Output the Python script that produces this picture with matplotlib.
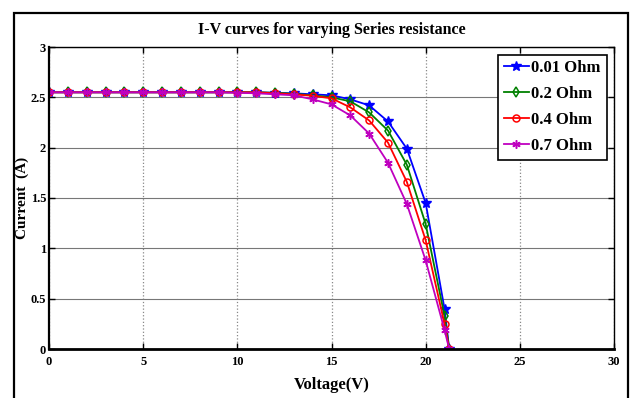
import matplotlib
matplotlib.use("Agg")
import matplotlib.pyplot as plt
from matplotlib.patches import Rectangle

# Terminal voltage (V) and module current (A) for each series resistance
voltage = [0, 1, 2, 3, 4, 5, 6, 7, 8, 9, 10, 11, 12, 13, 14, 15, 16, 17, 18, 19, 20, 21, 21.25]
i_001 = [2.55, 2.55, 2.55, 2.55, 2.55, 2.55, 2.55, 2.55, 2.55, 2.55, 2.55, 2.55, 2.545,
         2.54, 2.53, 2.52, 2.48, 2.42, 2.26, 1.99, 1.45, 0.40, 0.0]
i_02 = [2.55, 2.55, 2.55, 2.55, 2.55, 2.55, 2.55, 2.55, 2.55, 2.55, 2.55, 2.55, 2.545,
        2.535, 2.52, 2.50, 2.46, 2.35, 2.17, 1.83, 1.24, 0.33, 0.0]
i_04 = [2.55, 2.55, 2.55, 2.55, 2.55, 2.55, 2.55, 2.55, 2.55, 2.55, 2.55, 2.55, 2.54,
        2.53, 2.515, 2.49, 2.40, 2.27, 2.05, 1.66, 1.08, 0.25, 0.0]
i_07 = [2.55, 2.55, 2.55, 2.55, 2.55, 2.55, 2.55, 2.55, 2.55, 2.55, 2.545, 2.54, 2.53,
        2.52, 2.48, 2.43, 2.32, 2.14, 1.85, 1.44, 0.88, 0.19, 0.0]
labels = ["0.01 Ohm", "0.2 Ohm", "0.4 Ohm", "0.7 Ohm"]

xticks = [0, 5, 10, 15, 20, 25, 30]
yticks = [0, 0.5, 1, 1.5, 2, 2.5, 3]
ytick_labels = ["0", "0.5", "1", "1.5", "2", "2.5", "3"]

serif = ["Liberation Serif", "DejaVu Serif"]

fig = plt.figure(figsize=(6.33, 3.98), dpi=100)
fig.patch.set_facecolor("white")

# outer frame around the whole figure
fig.add_artist(Rectangle((14 / 633, -0.05), (628 - 14) / 633, 1.05 - 12.5 / 398,
                         transform=fig.transFigure, fill=False,
                         edgecolor="black", linewidth=1.6))

ax = fig.add_axes([49 / 633, 49 / 398, (614 - 49) / 633, (350 - 48) / 398])

styles = [
    dict(color=(0, 0, 1), marker="*", markersize=7, mfc=(0, 0, 1)),
    dict(color=(0, 0.5, 0), marker="d", markersize=5, mfc="none", mew=1.1),
    dict(color=(1, 0, 0), marker="o", markersize=5, mfc="none", mew=1.1),
    dict(color=(0.75, 0, 0.75), marker=(6, 2, 0), markersize=6, mew=1.1),
]
for series, lab, st in zip([i_001, i_02, i_04, i_07], labels, styles):
    ax.plot(voltage, series, linewidth=1.3, label=lab, **st)

ax.set_xlim(0, 30)
ax.set_ylim(0, 3)
ax.set_xticks(xticks)
ax.set_yticks(yticks)
ax.set_yticklabels(ytick_labels)

ax.xaxis.grid(True, color="#888888", linestyle=":", linewidth=0.9)
ax.yaxis.grid(True, color="#777777", linestyle="-", linewidth=0.8)
ax.set_axisbelow(True)

ax.tick_params(direction="in", length=4, width=1, top=True, right=True)
ax.tick_params(axis="x", pad=5)
ax.tick_params(axis="y", pad=2)
for lab in ax.get_xticklabels() + ax.get_yticklabels():
    lab.set_family(serif)
    lab.set_fontweight("bold")
    lab.set_fontsize(9)

ax.spines["bottom"].set_linewidth(2.0)
ax.spines["left"].set_linewidth(1.6)
ax.spines["top"].set_linewidth(1.0)
ax.spines["right"].set_linewidth(1.0)

ax.set_title("I-V curves for varying Series resistance", family=serif,
             fontweight="bold", fontsize=11.5, pad=9)
ax.set_xlabel("Voltage(V)", family=serif, fontweight="bold", fontsize=12)
ax.xaxis.set_label_coords(0.5, -28 / 302, transform=ax.transAxes)
ax.set_ylabel("Current  (A)", family=serif, fontweight="bold", fontsize=11)
ax.yaxis.set_label_coords(-20 / 565, 0.5, transform=ax.transAxes)

leg = ax.legend(loc="upper right", prop=dict(family=serif, weight="bold", size=12),
                frameon=True, fancybox=False, edgecolor="black", framealpha=1,
                handlelength=1.5, handletextpad=0.15, borderpad=0.35,
                labelspacing=0.6, borderaxespad=0.45)
leg.get_frame().set_linewidth(1.2)

fig.savefig("out.png", dpi=100)
